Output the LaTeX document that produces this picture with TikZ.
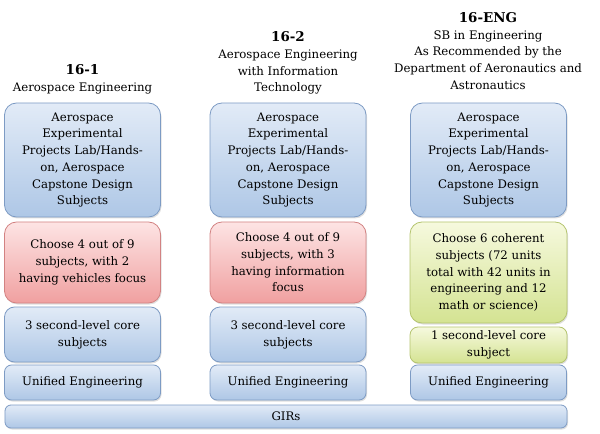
\documentclass[tikz,border=0pt]{standalone}
\usepackage{fontspec}
\setmainfont{DejaVu Serif}
\usetikzlibrary{shadows}

\definecolor{bluetop}{RGB}{226,235,247}
\definecolor{bluebot}{RGB}{174,199,230}
\definecolor{blueline}{RGB}{125,155,196}
\definecolor{redtop}{RGB}{253,228,228}
\definecolor{redbot}{RGB}{240,160,160}
\definecolor{redline}{RGB}{210,130,130}
\definecolor{greentop}{RGB}{246,249,222}
\definecolor{greenbot}{RGB}{212,227,146}
\definecolor{greenline}{RGB}{180,196,110}

\begin{document}
\begin{tikzpicture}[x=1bp,y=-1bp,
  every node/.style={font=\fontsize{11.8}{16.8}\selectfont, text=black, align=center, inner sep=0pt},
  box/.style={rounded corners=#1, line width=0.8pt,
    drop shadow={shadow xshift=1bp, shadow yshift=-1.5bp, opacity=0.25}},
  box/.default=12bp,
  bluebox/.style={box=#1, draw=blueline, top color=bluetop, bottom color=bluebot},
  bluebox/.default=12bp,
  redbox/.style={box, draw=redline, top color=redtop, bottom color=redbot},
  greenbox/.style={box=#1, draw=greenline, top color=greentop, bottom color=greenbot},
  greenbox/.default=12bp
]
\useasboundingbox (0,0) rectangle (600,434);

% headers
\node (h1) at (82.5,79) {{\fontsize{13.5}{17}\selectfont\bfseries 16-1}\\Aerospace Engineering};
\node (h2) at (288,63) {{\fontsize{13.5}{17}\selectfont\bfseries 16-2}\\Aerospace Engineering\\with Information\\Technology};
\node (h3) at (488,51) {{\fontsize{13.5}{17}\selectfont\bfseries 16-ENG}\\SB in Engineering\\As Recommended by the\\Department of Aeronautics and\\Astronautics};

% top boxes
\foreach \x/\n in {82.5/a, 288/b, 488.5/c}
  \node[bluebox, minimum width=156bp, minimum height=114bp] (lab\n) at (\x,160)
    {Aerospace\\Experimental\\Projects Lab/Hands-\\on, Aerospace\\Capstone Design\\Subjects};

% elective boxes
\node[redbox, minimum width=156bp, minimum height=81bp] (elea) at (82.5,262.5)
  {Choose 4 out of 9\\subjects, with 2\\having vehicles focus};
\node[redbox, minimum width=156bp, minimum height=81bp] (eleb) at (288,262.5)
  {Choose 4 out of 9\\subjects, with 3\\having information\\focus};
\node[greenbox, minimum width=157bp, minimum height=101bp] (elec) at (488.5,272.5)
  {Choose 6 coherent\\subjects (72 units\\total with 42 units in\\engineering and 12\\math or science)};

% second-level core
\foreach \x/\n in {82.5/a, 288/b}
  \node[bluebox=10bp, minimum width=156bp, minimum height=55bp] (core\n) at (\x,334.5)
    {3 second-level core\\subjects};
\node[greenbox=8bp, minimum width=157bp, minimum height=36bp] (corec) at (488.5,345)
  {1 second-level core\\subject};

% unified engineering
\foreach \x/\n in {82.5/a, 288/b, 488.5/c}
  \node[bluebox=7bp, minimum width=156bp, minimum height=35bp] (uni\n) at (\x,382.5)
    {Unified Engineering};

% GIRs
\node[bluebox=6bp, minimum width=562bp, minimum height=23bp] (girs) at (286,416.5) {GIRs};
\end{tikzpicture}
\end{document}
